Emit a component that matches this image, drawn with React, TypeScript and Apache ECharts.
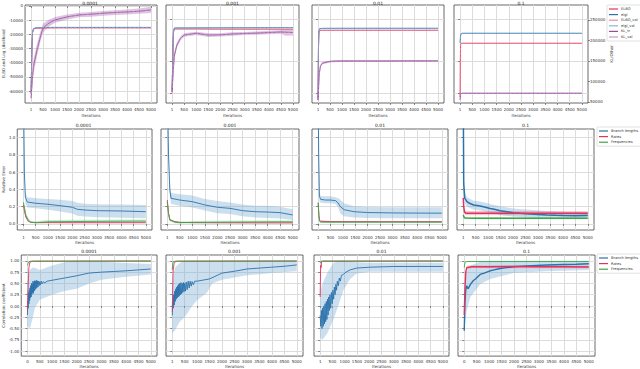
import React, { useEffect, useRef } from 'react';
import * as echarts from 'echarts';

type Pt = [number, number];
type Bd = [number, number, number];

// ---------- labels ----------
const lrTitles = ['0.0001', '0.001', '0.01', '0.1'];
const xTicks1 = [1, 500, 1000, 1500, 2000, 2500, 3000, 3500, 4000, 4500, 5000];
const xTicks0 = [0, 500, 1000, 1500, 2000, 2500, 3000, 3500, 4000, 4500, 5000];
const r1LeftTicks = [-60000, -50000, -40000, -30000, -20000, -10000, 0];
const r1HiddenTicks = [-27600, -20000, -10000];
const r1RightTicks = [50000, 100000, 150000, 200000, 250000];
const r2Ticks = [0, 0.2, 0.4, 0.6, 0.8, 1.0];
const r3Ticks = [-1, -0.75, -0.5, -0.25, 0, 0.25, 0.5, 0.75, 1];
const row1Names = ['ELBO', 'elgl', 'ELBO_val', 'elgl_val', 'KL_tr', 'KL_val'];
const row23Names = ['Branch lengths', 'Rates', 'Frequencies'];

// ---------- row 1 data ----------
const r1p1Elbo: Pt[] = [[1, -62000], [20, -45000], [40, -28000], [60, -19000], [100, -16300], [200, -15700], [500, -15500], [1000, -15400], [2000, -15400], [3000, -15400], [4000, -15400], [5000, -15400]];
const r1p1Elgl: Pt[] = [[1, -61000], [20, -44000], [40, -27000], [60, -18500], [100, -16000], [200, -15400], [500, -15200], [1000, -15100], [2000, -15100], [3000, -15100], [4000, -15100], [5000, -15100]];
const r1p1Kl: Pt[] = [[1, -65000], [50, -52000], [100, -42700], [250, -30800], [400, -21000], [500, -15400], [750, -12000], [1000, -9800], [1500, -7700], [2000, -6300], [2500, -5800], [3000, -5100], [3500, -4600], [4000, -4200], [4500, -3700], [5000, -2800]];
const r1p1KlBand: Bd[] = [[1, -68000, -60000], [50, -57000, -47000], [100, -48000, -37500], [250, -35000, -26500], [400, -24500, -17500], [500, -18500, -12500], [750, -14500, -9500], [1000, -11800, -7800], [1500, -9500, -6000], [2000, -8000, -4700], [2500, -7500, -4200], [3000, -6800, -3500], [3500, -6300, -3000], [4000, -6000, -2500], [4500, -5500, -1800], [5000, -5000, -600]];

const r1p2Elbo: Pt[] = [[1, -27400], [15, -24000], [30, -19700], [45, -15500], [60, -13000], [100, -12250], [500, -12250], [1000, -12250], [2000, -12300], [3000, -12300], [4000, -12300], [5000, -12330]];
const r1p2Elgl: Pt[] = [[1, -27000], [15, -23500], [30, -19000], [45, -15000], [60, -12600], [100, -12000], [500, -12000], [1000, -11980], [2000, -11960], [3000, -11950], [4000, -11940], [5000, -11940]];
const r1p2Kl: Pt[] = [[1, -27400], [50, -22100], [100, -18500], [200, -16100], [350, -14500], [500, -13700], [1000, -13300], [1500, -13700], [2000, -13650], [2500, -13450], [3000, -13330], [3500, -13250], [4000, -13100], [4500, -12970], [5000, -13100]];
const r1p2KlBand: Bd[] = [[1, -28000, -26800], [50, -23000, -21200], [100, -19300, -17700], [200, -16700, -15500], [350, -15000, -14000], [500, -14100, -13300], [1000, -13700, -12900], [1500, -14200, -13300], [2000, -14050, -13250], [2500, -13850, -13050], [3000, -13700, -12950], [3500, -13650, -12850], [4000, -13500, -12700], [4500, -13400, -12550], [4700, -13900, -12500], [5000, -13800, -12500]];

const r1p3Elbo: Pt[] = [[1, -29300], [10, -24000], [20, -17000], [35, -13500], [60, -12600], [200, -12560], [1000, -12560], [3000, -12560], [5000, -12560]];
const r1p3Elgl: Pt[] = [[1, -28800], [10, -23500], [20, -16500], [35, -13000], [60, -12200], [200, -12100], [1000, -12090], [3000, -12090], [5000, -12090]];
const r1p3Kl: Pt[] = [[1, -29300], [50, -23300], [100, -21100], [200, -20400], [500, -20050], [700, -19950], [1000, -19930], [2000, -19930], [3000, -19930], [4000, -19900], [5000, -19900]];
const r1p3KlBand: Bd[] = [[1, -29800, -28800], [50, -23800, -22800], [100, -21500, -20700], [200, -20700, -20100], [500, -20300, -19800], [1000, -20150, -19700], [3000, -20150, -19700], [5000, -20100, -19700]];

const r1p4Elbo: Pt[] = [[1, 62000], [10, 150000], [20, 190000], [40, 193000], [100, 193150], [1000, 193150], [5000, 193150]];
const r1p4Elgl: Pt[] = [[1, 193900], [10, 205000], [20, 212000], [50, 217000], [100, 217550], [1000, 217550], [5000, 217550]];
const r1p4Kl: Pt[] = [[1, 54800], [20, 69000], [50, 71000], [100, 71170], [1000, 71170], [5000, 71170]];
const r1p4KlBand: Bd[] = [[1, 52000, 57500], [20, 67500, 70500], [50, 70000, 72000], [100, 70200, 72200], [5000, 70200, 72200]];

// ---------- row 2 data (relative error) ----------
const r2p1Branch: Pt[] = [[1, 1.6], [40, 0.6], [80, 0.31], [160, 0.254], [500, 0.24], [1000, 0.228], [1500, 0.212], [2000, 0.193], [2200, 0.17], [2500, 0.162], [3000, 0.154], [4000, 0.15], [5000, 0.142]];
const r2p1BranchBand: Bd[] = [[1, 1.5, 1.7], [40, 0.5, 0.7], [80, 0.24, 0.37], [160, 0.19, 0.31], [500, 0.181, 0.297], [1000, 0.165, 0.29], [1500, 0.145, 0.28], [2000, 0.12, 0.265], [2200, 0.095, 0.245], [2500, 0.085, 0.235], [3000, 0.078, 0.228], [4000, 0.072, 0.224], [5000, 0.066, 0.22]];
const r2p1Rates: Pt[] = [[1, 0.22], [50, 0.14], [100, 0.08], [200, 0.03], [300, 0.02], [500, 0.015], [1000, 0.015], [2000, 0.014], [3000, 0.014], [4000, 0.014], [5000, 0.014]];
const r2p1RatesBand: Bd[] = [[1, 0.21, 0.23], [100, 0.074, 0.086], [300, 0.016, 0.024], [500, 0.011, 0.019], [5000, 0.01, 0.018]];
const r2p1Freq: Pt[] = [[1, 0.25], [50, 0.18], [100, 0.1], [200, 0.04], [300, 0.02], [500, 0.015], [1000, 0.025], [2000, 0.028], [3000, 0.03], [4000, 0.032], [5000, 0.033]];
const r2p1FreqBand: Bd[] = [[1, 0.23, 0.27], [100, 0.08, 0.12], [300, 0.01, 0.03], [500, 0.008, 0.03], [1000, 0.012, 0.045], [2000, 0.014, 0.05], [5000, 0.015, 0.052]];

const r2p2Branch: Pt[] = [[1, 1.6], [50, 0.8], [100, 0.4], [150, 0.297], [500, 0.277], [1000, 0.258], [1500, 0.22], [2000, 0.193], [2500, 0.181], [3000, 0.154], [3500, 0.142], [4000, 0.138], [4500, 0.131], [5000, 0.104]];
const r2p2BranchBand: Bd[] = [[1, 1.5, 1.7], [50, 0.7, 0.9], [100, 0.33, 0.47], [150, 0.23, 0.36], [500, 0.21, 0.345], [1000, 0.19, 0.33], [1500, 0.155, 0.29], [2000, 0.125, 0.265], [2500, 0.115, 0.25], [3000, 0.088, 0.225], [3500, 0.075, 0.212], [4000, 0.07, 0.21], [4500, 0.064, 0.2], [5000, 0.046, 0.17]];
const r2p2Rates: Pt[] = [[1, 0.277], [50, 0.12], [100, 0.046], [300, 0.027], [500, 0.018], [1000, 0.015], [2000, 0.013], [5000, 0.012]];
const r2p2RatesBand: Bd[] = [[1, 0.26, 0.29], [100, 0.04, 0.052], [300, 0.022, 0.032], [500, 0.013, 0.023], [5000, 0.007, 0.017]];
const r2p2Freq: Pt[] = [[1, 0.25], [50, 0.12], [100, 0.05], [300, 0.02], [500, 0.015], [1000, 0.018], [2000, 0.02], [3000, 0.022], [4000, 0.024], [5000, 0.025]];
const r2p2FreqBand: Bd[] = [[1, 0.23, 0.27], [100, 0.03, 0.07], [300, 0.008, 0.032], [500, 0.006, 0.028], [1000, 0.008, 0.035], [2000, 0.01, 0.038], [5000, 0.012, 0.04]];

const r2p3Branch: Pt[] = [[1, 1.5], [20, 0.8], [50, 0.32], [100, 0.285], [300, 0.277], [500, 0.277], [700, 0.27], [800, 0.245], [900, 0.2], [1050, 0.165], [1450, 0.142], [2000, 0.132], [3000, 0.128], [4000, 0.126], [5000, 0.125]];
const r2p3BranchBand: Bd[] = [[1, 1.4, 1.6], [20, 0.7, 0.9], [50, 0.26, 0.38], [100, 0.245, 0.325], [300, 0.24, 0.32], [500, 0.24, 0.32], [700, 0.232, 0.31], [800, 0.2, 0.3], [900, 0.12, 0.28], [1050, 0.09, 0.24], [1450, 0.075, 0.205], [2000, 0.068, 0.195], [3000, 0.066, 0.193], [5000, 0.066, 0.193]];
const r2p3Rates: Pt[] = [[1, 0.24], [30, 0.1], [60, 0.04], [100, 0.03], [500, 0.028], [1000, 0.027], [3000, 0.026], [5000, 0.026]];
const r2p3RatesBand: Bd[] = [[1, 0.23, 0.25], [60, 0.034, 0.046], [500, 0.022, 0.034], [5000, 0.02, 0.032]];
const r2p3Freq: Pt[] = [[1, 0.25], [30, 0.08], [60, 0.03], [100, 0.02], [500, 0.02], [1000, 0.02], [3000, 0.021], [5000, 0.021]];
const r2p3FreqBand: Bd[] = [[1, 0.24, 0.26], [60, 0.024, 0.036], [500, 0.014, 0.026], [5000, 0.015, 0.027]];

const r2p4Branch: Pt[] = [[1, 1.5], [20, 0.47], [60, 0.3], [150, 0.258], [250, 0.24], [420, 0.22], [550, 0.215], [680, 0.208], [850, 0.196], [1080, 0.18], [1250, 0.17], [1480, 0.154], [1700, 0.145], [2000, 0.131], [2300, 0.124], [2680, 0.116], [3000, 0.11], [3350, 0.104], [3700, 0.1], [4020, 0.097], [4500, 0.096], [5000, 0.097]];
const r2p4BranchBand: Bd[] = [[1, 1.4, 1.6], [20, 0.4, 0.55], [60, 0.24, 0.36], [150, 0.2, 0.31], [420, 0.165, 0.27], [680, 0.155, 0.26], [1080, 0.13, 0.23], [1480, 0.105, 0.205], [2000, 0.085, 0.18], [2680, 0.072, 0.165], [3350, 0.062, 0.15], [4020, 0.057, 0.142], [5000, 0.057, 0.142]];
const r2p4Rates: Pt[] = [[1, 0.3], [20, 0.2], [50, 0.14], [100, 0.125], [500, 0.123], [1000, 0.125], [2000, 0.123], [3000, 0.124], [4000, 0.123], [5000, 0.124]];
const r2p4RatesBand: Bd[] = [[1, 0.28, 0.32], [50, 0.115, 0.165], [100, 0.1, 0.15], [1000, 0.1, 0.15], [5000, 0.1, 0.148]];
const r2p4Freq: Pt[] = [[1, 0.104], [30, 0.08], [80, 0.068], [500, 0.066], [1000, 0.066], [3000, 0.065], [5000, 0.066]];
const r2p4FreqBand: Bd[] = [[1, 0.095, 0.113], [80, 0.056, 0.08], [1000, 0.054, 0.078], [5000, 0.054, 0.078]];

// ---------- row 3 data (correlation coefficient) ----------
const r3p1Branch: Pt[] = [[0, -0.2], [15, 0.1], [30, -0.05], [45, 0.3], [60, 0.05], [75, 0.35], [90, 0.12], [105, 0.4], [120, 0.18], [135, 0.45], [150, 0.2], [165, 0.5], [180, 0.25], [195, 0.48], [210, 0.3], [225, 0.55], [240, 0.28], [255, 0.52], [270, 0.33], [285, 0.56], [300, 0.35], [320, 0.55], [340, 0.38], [360, 0.57], [380, 0.4], [400, 0.56], [425, 0.42], [450, 0.55], [475, 0.45], [500, 0.54], [530, 0.47], [560, 0.55], [600, 0.49], [650, 0.54], [700, 0.51], [800, 0.55], [1000, 0.57], [1500, 0.62], [2000, 0.67], [2500, 0.73], [3000, 0.75], [3500, 0.765], [4000, 0.78], [4500, 0.8], [5000, 0.82]];
const r3p1BranchBand: Bd[] = [[0, -0.45, 0.55], [100, -0.5, 0.8], [200, -0.3, 0.85], [300, -0.05, 0.85], [500, 0.14, 0.8], [1000, 0.25, 0.9], [1500, 0.33, 0.97], [2000, 0.38, 1.0], [2500, 0.5, 1.0], [3000, 0.58, 0.98], [4000, 0.65, 0.95], [5000, 0.7, 0.93]];
const r3p1Rates: Pt[] = [[0, -0.1], [20, 0.3], [40, 0.6], [60, 0.85], [100, 0.97], [200, 0.99], [5000, 0.995]];
const r3p1Freq: Pt[] = [[0, 0.9], [30, 0.95], [60, 0.98], [120, 0.993], [300, 0.996], [5000, 0.998]];

const r3p2Branch: Pt[] = [[1, -0.21], [20, 0.1], [40, -0.05], [60, 0.25], [80, 0.02], [100, 0.33], [120, 0.1], [140, 0.38], [160, 0.15], [180, 0.42], [200, 0.18], [220, 0.45], [240, 0.2], [260, 0.48], [280, 0.22], [300, 0.5], [325, 0.25], [350, 0.52], [375, 0.27], [400, 0.5], [425, 0.3], [450, 0.52], [475, 0.32], [500, 0.5], [530, 0.33], [560, 0.53], [600, 0.36], [640, 0.55], [680, 0.4], [720, 0.55], [760, 0.44], [800, 0.54], [850, 0.47], [900, 0.55], [1000, 0.55], [1200, 0.57], [1500, 0.6], [2000, 0.73], [2500, 0.77], [3000, 0.82], [3500, 0.84], [4000, 0.86], [4500, 0.88], [5000, 0.91]];
const r3p2BranchBand: Bd[] = [[1, -0.6, 0.4], [100, -0.55, 0.85], [300, -0.35, 0.95], [500, -0.25, 1.0], [800, 0.0, 1.0], [1000, 0.13, 1.0], [1400, 0.3, 1.0], [1600, 0.5, 1.0], [2000, 0.58, 1.0], [3000, 0.68, 1.0], [4000, 0.73, 1.0], [5000, 0.77, 1.0]];
const r3p2Rates: Pt[] = [[1, -0.13], [20, 0.4], [40, 0.8], [80, 0.97], [200, 0.99], [5000, 0.995]];
const r3p2Freq: Pt[] = [[1, 0.8], [20, 0.95], [50, 0.99], [200, 0.996], [5000, 0.998]];

const r3p3Branch: Pt[] = [[1, -0.21], [25, -0.45], [50, -0.1], [75, -0.5], [100, -0.05], [125, -0.45], [150, 0.0], [175, -0.4], [200, 0.05], [225, -0.35], [250, 0.1], [275, -0.3], [300, 0.15], [325, -0.2], [350, 0.2], [375, -0.1], [400, 0.25], [430, -0.05], [460, 0.3], [490, 0.05], [520, 0.35], [550, 0.15], [580, 0.42], [610, 0.25], [640, 0.48], [670, 0.35], [700, 0.55], [740, 0.45], [780, 0.62], [820, 0.55], [870, 0.68], [945, 0.7], [1050, 0.75], [1220, 0.8], [1490, 0.84], [2030, 0.86], [3000, 0.875], [4000, 0.876], [5000, 0.876]];
const r3p3BranchBand: Bd[] = [[1, -0.7, 0.3], [100, -0.75, 0.5], [300, -0.6, 0.75], [540, -0.3, 0.95], [740, 0.0, 1.0], [945, 0.35, 1.0], [1220, 0.6, 0.98], [1490, 0.72, 0.97], [2000, 0.76, 0.96], [5000, 0.76, 0.96]];
const r3p3Rates: Pt[] = [[1, 0.2], [20, 0.9], [40, 0.85], [60, 0.98], [100, 0.99], [5000, 0.995]];
const r3p3Freq: Pt[] = [[1, 0.95], [30, 0.99], [100, 0.998], [5000, 0.999]];

const r3p4Branch: Pt[] = [[0, -0.55], [30, 0.1], [60, 0.35], [100, 0.45], [150, 0.38], [250, 0.48], [360, 0.56], [450, 0.6], [640, 0.7], [800, 0.73], [1040, 0.78], [1200, 0.8], [1440, 0.83], [1700, 0.85], [1970, 0.87], [2500, 0.89], [3310, 0.91], [4000, 0.92], [4500, 0.925], [5000, 0.935]];
const r3p4BranchBand: Bd[] = [[0, -0.65, -0.2], [30, -0.4, 0.6], [100, -0.1, 0.8], [250, 0.2, 0.9], [640, 0.48, 0.98], [1040, 0.6, 1.0], [1970, 0.73, 1.0], [3300, 0.77, 1.0], [5000, 0.8, 1.0]];
const r3p4Rates: Pt[] = [[0, -0.2], [30, 0.4], [60, 0.75], [100, 0.85], [300, 0.87], [1000, 0.87], [2000, 0.875], [3000, 0.87], [4000, 0.87], [5000, 0.865]];
const r3p4RatesBand: Bd[] = [[0, -0.25, -0.15], [100, 0.81, 0.89], [300, 0.84, 0.9], [5000, 0.835, 0.895]];
const r3p4Freq: Pt[] = [[0, 0.85], [30, 0.97], [100, 0.985], [5000, 0.985]];

// ---------- styling ----------
const C_RED = '#e4325f';
const C_RED_L = '#f08aa3';
const C_BLUE = '#2a72ab';
const C_BLUE_L = '#86b6da';
const C_PURPLE = '#964c9a';
const C_PURPLE_L = '#c79ccc';
const C_GREEN = '#3aa84a';
const B_BLUE = 'rgba(120,170,210,0.38)';
const B_RED = 'rgba(230,80,110,0.3)';
const B_GREEN = 'rgba(90,190,110,0.3)';
const B_PURPLE = 'rgba(160,90,170,0.35)';
const FONT = 'DejaVu Sans';
const TXT = '#333';
const GRIDC = '#dcdcdc';

const GRIDS = [
  { left: 23, top: 5, width: 134, height: 98 },
  { left: 166, top: 5, width: 133, height: 98 },
  { left: 312, top: 5, width: 132, height: 98 },
  { left: 454, top: 5, width: 134, height: 98 },
  { left: 15, top: 129, width: 137, height: 101 },
  { left: 161, top: 129, width: 138, height: 101 },
  { left: 312, top: 129, width: 136, height: 101 },
  { left: 457, top: 129, width: 137, height: 101 },
  { left: 21, top: 255, width: 136, height: 103 },
  { left: 166, top: 255, width: 137, height: 103 },
  { left: 314, top: 255, width: 135, height: 103 },
  { left: 458, top: 255, width: 137, height: 103 },
];
const TITLE_Y = [3, 3, 3, 3, 125, 125, 125, 125, 251.5, 251.5, 251.5, 251.5];

function line(name: string, data: Pt[], xi: number, yi: number, color: string, width = 0.9, type = 'solid', z = 3) {
  return {
    name, type: 'line', xAxisIndex: xi, yAxisIndex: yi, data, symbol: 'none', showSymbol: false,
    lineStyle: { color, width, type }, itemStyle: { color }, z, silent: true, clip: true,
  };
}
// shaded band between lower and upper bounds, drawn through the axes' own coordinate mapping
function band(id: string, b: Bd[], xi: number, yi: number, color: string) {
  return {
    type: 'custom', name: id, xAxisIndex: xi, yAxisIndex: yi, silent: true, z: 1, clip: true,
    data: b.map((p) => [p[0], p[1], p[2]]),
    encode: { x: 0, y: [1, 2] },
    renderItem: (params: any, api: any) => {
      if (params.dataIndex !== 0) return null;
      const up = b.map((p) => api.coord([p[0], p[2]]));
      const dn = b.map((p) => api.coord([p[0], p[1]])).reverse();
      return { type: 'polygon', shape: { points: up.concat(dn) }, style: { fill: color, stroke: 'none' } };
    },
  };
}

function xAxis(gi: number, ticks: number[], margin: number, nameGap: number) {
  return {
    type: 'value', gridIndex: gi, min: -250, max: 5250,
    name: 'Iterations', nameLocation: 'middle', nameGap,
    nameTextStyle: { fontSize: 4, color: TXT, fontFamily: FONT },
    axisLine: { show: false },
    axisTick: { show: true, length: 2, customValues: ticks, lineStyle: { color: '#444', width: 0.6 } },
    axisLabel: { customValues: ticks, fontSize: 4, margin, color: TXT, fontFamily: FONT, formatter: (v: number) => String(v) },
    splitLine: { show: true, lineStyle: { color: GRIDC, width: 1 } },
  };
}
function yAxis(gi: number, min: number, max: number, ticks: number[], showLabel: boolean, fmt: (v: number) => string, name = '', nameGap = 10, extra: any = {}) {
  return {
    type: 'value', gridIndex: gi, min, max,
    name, nameLocation: 'middle', nameGap,
    nameTextStyle: { fontSize: 4, color: TXT, fontFamily: FONT },
    axisLine: { show: false },
    axisTick: { show: true, length: 2, customValues: ticks, lineStyle: { color: '#444', width: 0.6 } },
    axisLabel: { show: showLabel, customValues: ticks, fontSize: 4, margin: 2, color: TXT, fontFamily: FONT, formatter: fmt },
    splitLine: { show: true, lineStyle: { color: GRIDC, width: 1 } },
    ...extra,
  };
}

export default function App() {
  const ref = useRef<HTMLDivElement>(null);
  useEffect(() => {
    if (!ref.current) return;
    const chart = echarts.init(ref.current, undefined, { renderer: 'svg' });

    const xAxes = GRIDS.map((_, gi) => {
      const row = Math.floor(gi / 4);
      const ticks = gi === 8 || gi === 11 ? xTicks0 : xTicks1;
      if (row === 0) return xAxis(gi, ticks, 4, 10);
      if (row === 1) return xAxis(gi, ticks, 5, 10);
      return xAxis(gi, ticks, 3, 7);
    });

    const f0 = (v: number) => String(v);
    const f1 = (v: number) => v.toFixed(1);
    const f2 = (v: number) => v.toFixed(2);
    const yAxes: any[] = [
      yAxis(0, -68400, 700, r1LeftTicks, true, f0, 'ELBO and Log Likelihood', 17),
      yAxis(1, -30000, -6500, r1HiddenTicks, false, f0),
      yAxis(2, -30000, -6500, r1HiddenTicks, false, f0),
      yAxis(3, -30000, -6500, r1HiddenTicks, false, f0),
      yAxis(3, 47400, 286600, r1RightTicks, true, f0, 'KL/Other', 18, { position: 'right', splitLine: { show: false } }),
      yAxis(4, -0.07, 1.1, r2Ticks, true, f1, 'Relative Error', 10),
      yAxis(5, -0.07, 1.1, r2Ticks, false, f1),
      yAxis(6, -0.07, 1.1, r2Ticks, false, f1),
      yAxis(7, -0.07, 1.1, r2Ticks, false, f1),
      yAxis(8, -1.11, 1.13, r3Ticks, true, f2, 'Correlation coefficient', 15),
      yAxis(9, -1.11, 1.13, r3Ticks, false, f2),
      yAxis(10, -1.11, 1.13, r3Ticks, false, f2),
      yAxis(11, -1.11, 1.13, r3Ticks, false, f2),
    ];

    const series: any[] = [];
    const row1 = [
      { elbo: r1p1Elbo, elgl: r1p1Elgl, kl: r1p1Kl, klb: r1p1KlBand, yi: 0 },
      { elbo: r1p2Elbo, elgl: r1p2Elgl, kl: r1p2Kl, klb: r1p2KlBand, yi: 1 },
      { elbo: r1p3Elbo, elgl: r1p3Elgl, kl: r1p3Kl, klb: r1p3KlBand, yi: 2 },
      { elbo: r1p4Elbo, elgl: r1p4Elgl, kl: r1p4Kl, klb: r1p4KlBand, yi: 4 },
    ];
    row1.forEach((p, i) => {
      series.push(band('r1kl' + i, p.klb, i, p.yi, B_PURPLE));
      series.push(line(row1Names[0], p.elbo, i, p.yi, C_RED, 0.9));
      series.push(line(row1Names[1], p.elgl, i, p.yi, C_BLUE, 0.9));
      series.push(line(row1Names[2], p.elbo, i, p.yi, C_RED_L, 0.7, 'dashed', 4));
      series.push(line(row1Names[3], p.elgl, i, p.yi, C_BLUE_L, 0.7, 'dashed', 4));
      series.push(line(row1Names[4], p.kl, i, p.yi, C_PURPLE, 0.9, 'solid', 5));
      series.push(line(row1Names[5], p.kl, i, p.yi, C_PURPLE_L, 0.7, 'dashed', 6));
    });

    const row2 = [
      { b: r2p1Branch, bb: r2p1BranchBand, r: r2p1Rates, rb: r2p1RatesBand, f: r2p1Freq, fb: r2p1FreqBand, w: 0.9 },
      { b: r2p2Branch, bb: r2p2BranchBand, r: r2p2Rates, rb: r2p2RatesBand, f: r2p2Freq, fb: r2p2FreqBand, w: 0.9 },
      { b: r2p3Branch, bb: r2p3BranchBand, r: r2p3Rates, rb: r2p3RatesBand, f: r2p3Freq, fb: r2p3FreqBand, w: 0.9 },
      { b: r2p4Branch, bb: r2p4BranchBand, r: r2p4Rates, rb: r2p4RatesBand, f: r2p4Freq, fb: r2p4FreqBand, w: 1.5 },
    ];
    row2.forEach((p, i) => {
      const gi = 4 + i;
      const yi = 5 + i;
      series.push(band('r2b' + i, p.bb, gi, yi, B_BLUE));
      series.push(band('r2r' + i, p.rb, gi, yi, B_RED));
      series.push(band('r2f' + i, p.fb, gi, yi, B_GREEN));
      series.push(line(row23Names[0], p.b, gi, yi, C_BLUE, p.w, 'solid', 3));
      series.push(line(row23Names[1], p.r, gi, yi, C_RED, p.w, 'solid', 4));
      series.push(line(row23Names[2], p.f, gi, yi, C_GREEN, p.w, 'solid', 5));
    });

    const row3 = [
      { b: r3p1Branch, bb: r3p1BranchBand, r: r3p1Rates, rb: null as Bd[] | null, f: r3p1Freq, w: 0.9 },
      { b: r3p2Branch, bb: r3p2BranchBand, r: r3p2Rates, rb: null, f: r3p2Freq, w: 0.9 },
      { b: r3p3Branch, bb: r3p3BranchBand, r: r3p3Rates, rb: null, f: r3p3Freq, w: 0.9 },
      { b: r3p4Branch, bb: r3p4BranchBand, r: r3p4Rates, rb: r3p4RatesBand, f: r3p4Freq, w: 1.4 },
    ];
    row3.forEach((p, i) => {
      const gi = 8 + i;
      const yi = 9 + i;
      series.push(band('r3b' + i, p.bb, gi, yi, B_BLUE));
      if (p.rb) series.push(band('r3r' + i, p.rb, gi, yi, B_RED));
      series.push(line(row23Names[0], p.b, gi, yi, C_BLUE, p.w, 'solid', 3));
      series.push(line(row23Names[1], p.r, gi, yi, C_RED, p.w, 'solid', 4));
      series.push(line(row23Names[2], p.f, gi, yi, C_GREEN, 0.9, 'solid', 5));
    });

    const legendBase = {
      orient: 'vertical', itemWidth: 9, itemHeight: 1.2, itemGap: 1.6, icon: 'rect',
      textStyle: { fontSize: 3.6, color: TXT, fontFamily: FONT, padding: [0, 0, 0, -2] },
      borderColor: '#cccccc', borderWidth: 0.6, borderRadius: 1, padding: [2, 3, 2, 2],
      backgroundColor: '#fff', selectedMode: false,
    };

    chart.setOption({
      animation: false,
      backgroundColor: '#ffffff',
      textStyle: { fontFamily: FONT },
      grid: GRIDS.map((g) => ({ ...g, show: true, borderColor: '#444', borderWidth: 0.8, backgroundColor: 'transparent', containLabel: false })),
      xAxis: xAxes,
      yAxis: yAxes,
      legend: [
        { ...legendBase, data: row1Names, left: 607, top: 5 },
        { ...legendBase, data: row23Names, left: 597, top: 127 },
        { ...legendBase, data: row23Names, left: 597, top: 254 },
      ],
      graphic: GRIDS.map((g, gi) => ({
        type: 'text', x: g.left + g.width / 2, y: TITLE_Y[gi], silent: true,
        style: { text: lrTitles[gi % 4], fontSize: 4.5, fill: '#222', fontFamily: FONT, align: 'center', verticalAlign: 'middle' },
      })),
      series,
    });
    return () => chart.dispose();
  }, []);
  return <div ref={ref} style={{ position: 'fixed', left: 0, top: 0, width: 640, height: 369 }} />;
}
